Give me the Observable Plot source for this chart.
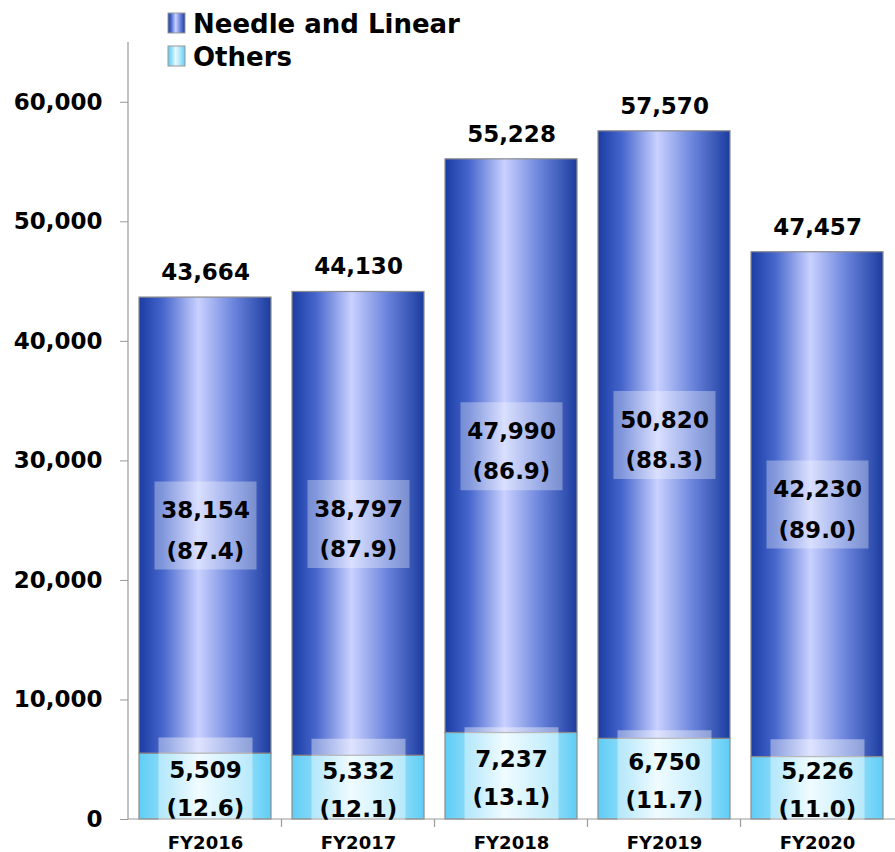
<!DOCTYPE html>
<html>
<head>
<meta charset="utf-8">
<script src="https://cdn.jsdelivr.net/npm/d3@7"></script>
<script src="https://cdn.jsdelivr.net/npm/@observablehq/plot@0.6"></script>
<style>
  html, body { margin: 0; padding: 0; background: #fff; }
  #chart svg { display: block; }
</style>
</head>
<body>
<div id="chart"></div>
<script>
const years = ["FY2016", "FY2017", "FY2018", "FY2019", "FY2020"];
const needle = [38154, 38797, 47990, 50820, 42230];
const needlePct = [87.4, 87.9, 86.9, 88.3, 89.0];
const others = [5509, 5332, 7237, 6750, 5226];
const othersPct = [12.6, 12.1, 13.1, 11.7, 11.0];
const totals = [43664, 44130, 55228, 57570, 47457];
const seriesNames = ["Needle and Linear", "Others"];
const yTicks = [0, 10000, 20000, 30000, 40000, 50000, 60000];

const fmt = d3.format(",");
const needleRows = years.map((y, i) => ({year: y, y1: others[i], y2: others[i] + needle[i], mid: others[i] + needle[i] / 2, label: `${fmt(needle[i])}\n(${needlePct[i].toFixed(1)})`}));
const otherRows = years.map((y, i) => ({year: y, y1: 0, y2: others[i], mid: others[i] / 2, label: `${fmt(others[i])}\n(${othersPct[i].toFixed(1)})`}));
const totalRows = years.map((y, i) => ({year: y, total: totals[i], label: fmt(totals[i])}));

const gradStops = {
  gNeedle: [[0, "#1a3ca3"], [0.18, "#4666cc"], [0.45, "#c9d1ff"], [0.72, "#6a84dc"], [1, "#1b3c9f"]],
  gOthers: [[0, "#5fcdf5"], [0.2, "#8fdcfa"], [0.45, "#e6f9ff"], [0.75, "#a4e4fb"], [1, "#5fcdf5"]]
};

function defsMark() {
  const defs = d3.create("svg:defs");
  for (const [id, stops] of Object.entries(gradStops)) {
    const g = defs.append("linearGradient").attr("id", id).attr("x1", "0").attr("x2", "1").attr("y1", "0").attr("y2", "0");
    for (const [o, c] of stops) g.append("stop").attr("offset", o).attr("stop-color", c);
  }
  return defs.node();
}

const boxBig = {draw(ctx) { ctx.rect(-51, -44, 102, 88); }};
const boxSmall = {draw(ctx) { ctx.rect(-47, -46, 94, 92); }};

function frameLines(index, scales, values, dims) {
  const {x, y} = scales;
  const g = d3.create("svg:g").attr("stroke", "#999").attr("stroke-width", 1.2);
  const left = dims.marginLeft;
  g.append("line").attr("x1", left).attr("x2", left).attr("y1", dims.marginTop).attr("y2", y(0));
  g.append("line").attr("x1", left).attr("x2", dims.width - dims.marginRight).attr("y1", y(0)).attr("y2", y(0));
  const step = x.step(), pad = (step - x.bandwidth()) / 2;
  for (const yr of years.slice(1)) {
    const xx = x(yr) - pad;
    g.append("line").attr("x1", xx).attr("x2", xx).attr("y1", y(0)).attr("y2", y(0) + 8);
  }
  return g.node();
}

function legendMark() {
  const g = d3.create("svg:g").attr("text-anchor", "start");
  const items = [{name: seriesNames[0], fill: "url(#gNeedle)"}, {name: seriesNames[1], fill: "url(#gOthers)"}];
  items.forEach((it, i) => {
    const yy = 13 + i * 33;
    g.append("rect").attr("x", 168).attr("y", yy).attr("width", 17).attr("height", 20)
      .attr("fill", it.fill).attr("stroke", "#999").attr("stroke-width", 1);
    g.append("text").attr("x", 193).attr("y", yy + 20).attr("text-anchor", "start")
      .attr("font-size", 26).attr("font-weight", "bold")
      .attr("fill", "#000").text(it.name);
  });
  return g.node();
}

const chart = Plot.plot({
  width: 895,
  height: 852,
  marginLeft: 128,
  marginRight: 0,
  marginTop: 42,
  marginBottom: 33,
  style: {fontFamily: "'DejaVu Sans', Verdana, sans-serif", fontWeight: "bold", background: "#fff", color: "#000"},
  x: {domain: years, paddingInner: 0.137, paddingOuter: 0.07},
  y: {domain: [0, 65000]},
  marks: [
    defsMark,
    Plot.barY(otherRows, {x: "year", y1: "y1", y2: "y2", fill: "url(#gOthers)", stroke: "#8c8c8c", strokeWidth: 1.2}),
    Plot.barY(needleRows, {x: "year", y1: "y1", y2: "y2", fill: "url(#gNeedle)", stroke: "#8c8c8c", strokeWidth: 1.2}),
    frameLines,
    Plot.dot(needleRows, {x: "year", y: "mid", symbol: boxBig, r: 10, fill: "#ffffff", fillOpacity: 0.32, stroke: "none"}),
    Plot.dot(otherRows, {x: "year", y: "mid", symbol: boxSmall, r: 10, fill: "#ffffff", fillOpacity: 0.4, stroke: "none", dy: -3}),
    Plot.text(needleRows, {x: "year", y: "mid", text: "label", fontSize: 23, fontWeight: "bold", fill: "#000", lineHeight: 1.75, lineAnchor: "middle"}),
    Plot.text(otherRows, {x: "year", y: "mid", text: "label", fontSize: 23, fontWeight: "bold", fill: "#000", lineHeight: 1.65, lineAnchor: "middle", dy: -2}),
    Plot.text(totalRows, {x: "year", y: "total", text: "label", fontSize: 23, fontWeight: "bold", fill: "#000", lineAnchor: "middle", dy: -25}),
    Plot.axisY({ticks: yTicks, tickFormat: d3.format(","), tickSize: 8, tickPadding: 18, fontSize: 23, fontWeight: "bold", stroke: "#999", label: null}),
    Plot.axisX({tickSize: 0, tickPadding: 17, fontSize: 18, fontWeight: "bold", label: null}),
    legendMark
  ]
});
document.getElementById("chart").appendChild(chart);
</script>
</body>
</html>
